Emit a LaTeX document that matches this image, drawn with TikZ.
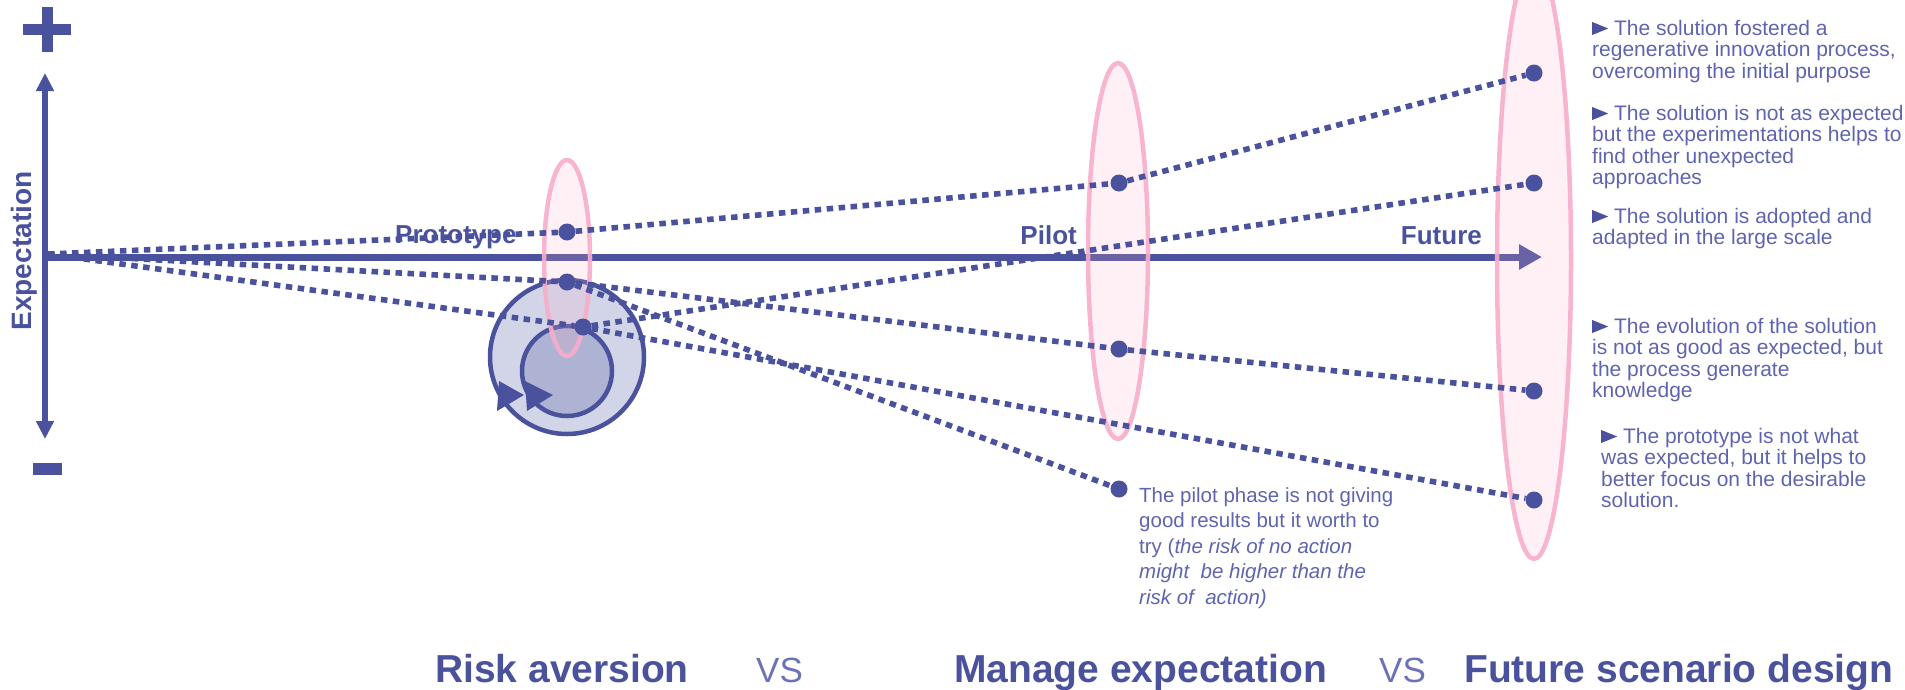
\documentclass[tikz,border=0pt]{standalone}
\usepackage{fontspec}
\setmainfont{Liberation Sans}
\usetikzlibrary{arrows.meta}
\definecolor{navy}{HTML}{4A529E}
\definecolor{txtblue}{HTML}{5E64AE}
\definecolor{vsblue}{HTML}{6C72B8}
\definecolor{pinkline}{HTML}{F7ADCB}
\definecolor{pinkfill}{HTML}{F9ADC2}
\definecolor{ringouter}{HTML}{D2D5E8}
\definecolor{ringinner}{HTML}{AEB2D3}
\newcommand{\tri}{\tikz[baseline=0pt]\fill[navy] (0pt,0pt) -- (0pt,13pt) -- (16pt,6.5pt) -- cycle;}
\begin{document}
\begin{tikzpicture}[x=1pt,y=-1pt,
  axisline/.style={navy, line width=7pt},
  dotline/.style={navy, line width=5.6pt, dash pattern=on 6.5pt off 5.5pt},
  dotnode/.style={circle, fill=navy, inner sep=0pt, minimum size=17pt},
  pinkell/.style={draw=pinkline, line width=4.5pt, draw opacity=0.9, fill=pinkfill, fill opacity=0.18},
  ring/.style={draw=navy, line width=4.5pt},
  phase/.style={navy, font=\bfseries\fontsize{26}{26}\selectfont, inner sep=0pt},
  desc/.style={txtblue, font=\fontsize{21}{21.6}\selectfont, align=left, inner sep=0pt},
  note/.style={txtblue, font=\fontsize{20.5}{25.5}\selectfont, align=left, inner sep=0pt},
  title/.style={navy, font=\bfseries\fontsize{39}{39}\selectfont, inner sep=0pt},
  vs/.style={vsblue, font=\fontsize{35}{35}\selectfont, inner sep=0pt}]
\useasboundingbox (0,0) rectangle (1905,689);

% plus / minus
\fill[navy] (23,24) rectangle (71,35);
\fill[navy] (42,7) rectangle (53,52);
\fill[navy] (33,463) rectangle (62,475);

% vertical axis
\coordinate (vtop) at (45,73);
\coordinate (vbot) at (45,439);
\draw[navy, line width=5.5pt, {Triangle[length=18pt,width=17pt]}-{Triangle[length=18pt,width=17pt]}] (vtop) -- (vbot);
\node[rotate=90, anchor=base, navy, font=\bfseries\fontsize{28}{28}\selectfont, inner sep=0pt] (exp) at (31,251) {Expectation};

% horizontal axis
\coordinate (hstart) at (42,257);
\coordinate (hend) at (1542,257);
\draw[axisline, -{Triangle[length=23pt,width=24pt]}] (hstart) -- (hend);

% cycle icon
\draw[ring, fill=ringouter] (567,357) circle[radius=77];
\draw[ring, fill=ringinner] (567,371) circle[radius=45];
\fill[navy] (497,411) -- (499,381) -- (524,395) -- cycle;
\fill[navy] (525,381) -- (527,411) -- (553,395) -- cycle;

% ellipses
\draw[pinkell] (567,258) ellipse[x radius=23, y radius=98];
\draw[pinkell] (1118,251) ellipse[x radius=30, y radius=188];
\draw[pinkell] (1534,260) ellipse[x radius=37, y radius=299];

% dots
\coordinate (o) at (48,254);
\node[dotnode] (p1) at (567,232) {};
\node[dotnode] (p2) at (567,282) {};
\node[dotnode] (p3) at (583,327) {};
\node[dotnode] (pi1) at (1119,183) {};
\node[dotnode] (pi2) at (1119,349) {};
\node[dotnode] (pi3) at (1119,489) {};
\node[dotnode] (f1) at (1534,73) {};
\node[dotnode] (f2) at (1534,183) {};
\node[dotnode] (f3) at (1534,391) {};
\node[dotnode] (f4) at (1534,500) {};

% dotted connectors
\draw[dotline] (o) -- (p1) -- (pi1) -- (f1);
\draw[dotline] (o) -- (p2) -- (pi2) -- (f3);
\draw[dotline] (p2) -- (pi3);
\draw[dotline] (o) -- (p3) -- (f2);
\draw[dotline] (p3) -- (f4);

% phase labels
\node[phase, anchor=base west] (lproto) at (395,243) {Prototype};
\node[phase, anchor=base east] (lpilot) at (1077,244) {Pilot};
\node[phase, anchor=base east] (lfuture) at (1482,244) {Future};

% pilot note (base anchor = baseline of last line)
\node[note, anchor=base west] (pnote) at (1139,604) {The pilot phase is not giving\\good results but it worth to\\try (\textit{the risk of no action}\\\textit{might\ \ be higher than the}\\\textit{risk of\ \ action)}};

% right descriptions (base anchor = baseline of last line)
\node[desc, anchor=base west] (d1) at (1592,78.2) {\tri\ The solution fostered a\\regenerative innovation process,\\overcoming the initial purpose};
\node[desc, anchor=base west] (d2) at (1592,184.8) {\tri\ The solution is not as expected\\but the experimentations helps to\\find other unexpected\\approaches};
\node[desc, anchor=base west] (d3) at (1592,244.6) {\tri\ The solution is adopted and\\adapted in the large scale};
\node[desc, anchor=base west] (d4) at (1592,397.8) {\tri\ The evolution of the solution\\is not as good as expected, but\\the process generate\\knowledge};
\node[desc, anchor=base west] (d5) at (1601,507.8) {\tri\ The prototype is not what\\was expected, but it helps to\\better focus on the desirable\\solution.};

% bottom titles
\node[title, anchor=base west] (t1) at (435,682) {Risk aversion};
\node[vs, anchor=base west] (vs1) at (756,682) {VS};
\node[title, anchor=base west] (t2) at (954,682) {Manage expectation};
\node[vs, anchor=base west] (vs2) at (1379,682) {VS};
\node[title, anchor=base west] (t3) at (1464,682) {Future scenario design};
\end{tikzpicture}
\end{document}
